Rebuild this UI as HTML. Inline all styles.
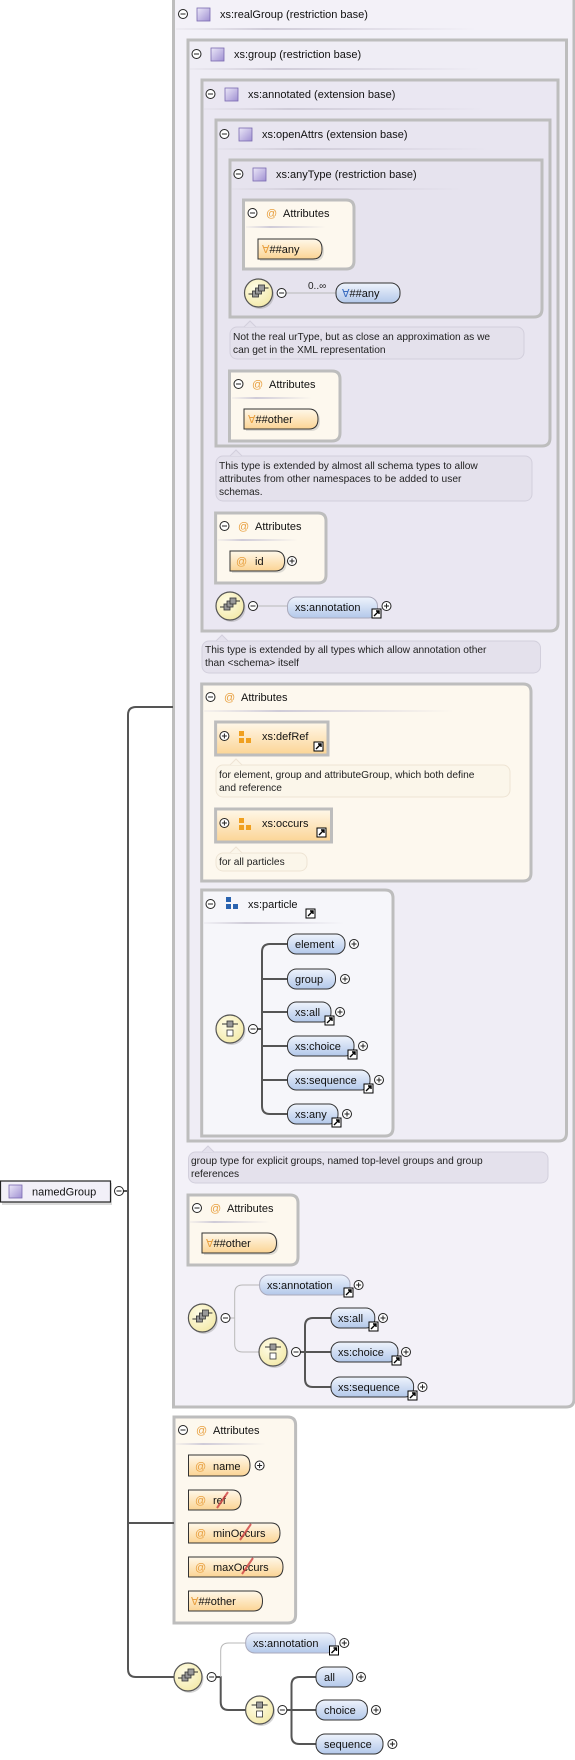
<!DOCTYPE html>
<html><head><meta charset="utf-8"><style>
html,body{margin:0;padding:0;background:#fff;}
svg{display:block;font-family:"Liberation Sans",sans-serif;}
</style></head><body>
<svg width="575" height="1760" viewBox="0 0 575 1760" xmlns="http://www.w3.org/2000/svg">
<defs>
<linearGradient id="lav" x1="0" y1="0" x2="1" y2="1"><stop offset="0" stop-color="#ece8f8"/><stop offset="1" stop-color="#9f90d2"/></linearGradient>
<linearGradient id="blu" x1="0" y1="0" x2="0" y2="1"><stop offset="0" stop-color="#eef3fc"/><stop offset="1" stop-color="#b3c8ea"/></linearGradient>
<linearGradient id="org" x1="0" y1="0" x2="0" y2="1"><stop offset="0" stop-color="#fff8ea"/><stop offset="1" stop-color="#fbd494"/></linearGradient>
<radialGradient id="yel" cx="0.4" cy="0.35" r="0.7"><stop offset="0" stop-color="#fffde8"/><stop offset="1" stop-color="#f3e9a8"/></radialGradient>
<linearGradient id="hl" x1="0" y1="0" x2="1" y2="0"><stop offset="0" stop-color="#d8d5de" stop-opacity="0.2"/><stop offset="0.3" stop-color="#cfcbd8"/><stop offset="1" stop-color="#cfcbd8" stop-opacity="0"/></linearGradient>
<g id="minus"><circle r="4.5" fill="#fff" stroke="#222" stroke-width="1"/><line x1="-2.5" y1="0" x2="2.5" y2="0" stroke="#222"/></g>
<g id="plus"><circle r="4.5" fill="#fff" stroke="#222" stroke-width="1"/><line x1="-2.5" y1="0" x2="2.5" y2="0" stroke="#222"/><line x1="0" y1="-2.5" x2="0" y2="2.5" stroke="#222"/></g>
<g id="ticon"><rect x="0" y="0" width="13" height="13" fill="url(#lav)" stroke="#7a6ab0" stroke-width="0.8"/></g>
<g id="link"><rect x="0" y="0" width="9" height="9" fill="#fff" stroke="#000" stroke-width="1"/><path d="M2 7 L7 2 M4 2 H7 V5" stroke="#000" stroke-width="1.4" fill="none"/></g>
<g id="seq"><circle r="14" fill="#888" opacity="0.35" cx="1.5" cy="2"/><circle r="14" fill="url(#yel)" stroke="#555" stroke-width="1.2"/><rect x="-6" y="-2" width="6" height="6" fill="#999" stroke="#333" stroke-width="0.8"/><rect x="-3" y="-5" width="6" height="6" fill="#999" stroke="#333" stroke-width="0.8"/><rect x="0" y="-8" width="6" height="6" fill="#999" stroke="#333" stroke-width="0.8"/><line x1="-10" y1="1" x2="-6" y2="1" stroke="#333"/><line x1="6" y1="-5" x2="10" y2="-5" stroke="#333"/></g>
<g id="cho"><circle r="14" fill="#888" opacity="0.35" cx="1.5" cy="2"/><circle r="14" fill="url(#yel)" stroke="#555" stroke-width="1.2"/><line x1="-8" y1="-5" x2="8" y2="-5" stroke="#333"/><rect x="-3" y="-8" width="6" height="6" fill="#999" stroke="#333" stroke-width="0.8"/><rect x="-3" y="1" width="6" height="6" fill="#fff" stroke="#333" stroke-width="0.8"/></g>
</defs>

<path d="M173.5 -2 H574 V1399 Q574 1407 566 1407 H173.5 Z" fill="#f3f1f8" stroke="#bdbdbd" stroke-width="3"/>
<path d="M188 40 H566.5 V1133 Q566.5 1141 558.5 1141 H188 Z" fill="#efedf5" stroke="#bdbdbd" stroke-width="3"/>
<path d="M202 80 H558 V623 Q558 631 550 631 H202 Z" fill="#eae7f2" stroke="#bdbdbd" stroke-width="3"/>
<path d="M216 120 H550 V438 Q550 446 542 446 H216 Z" fill="#e8e5f0" stroke="#bdbdbd" stroke-width="3"/>
<path d="M230 160 H542 V309 Q542 317 534 317 H230 Z" fill="#e6e3ee" stroke="#bdbdbd" stroke-width="3"/>

<rect x="176" y="28" width="300" height="2" fill="url(#hl)"/>
<rect x="190" y="68" width="290" height="2" fill="url(#hl)"/>
<rect x="204" y="108" width="280" height="2" fill="url(#hl)"/>
<rect x="218" y="148" width="270" height="2" fill="url(#hl)"/>
<rect x="232" y="188" width="230" height="2" fill="url(#hl)"/>

<g font-size="11" fill="#111">
<use href="#minus" x="183" y="14"/><use href="#ticon" x="197" y="8"/><text x="220" y="18">xs:realGroup (restriction base)</text>
<use href="#minus" x="196.5" y="54"/><use href="#ticon" x="211" y="48"/><text x="234" y="58">xs:group (restriction base)</text>
<use href="#minus" x="210.5" y="94"/><use href="#ticon" x="225" y="88"/><text x="248" y="98">xs:annotated (extension base)</text>
<use href="#minus" x="224.4" y="134"/><use href="#ticon" x="239" y="128"/><text x="262" y="138">xs:openAttrs (extension base)</text>
<use href="#minus" x="238.4" y="174"/><use href="#ticon" x="253" y="168"/><text x="276" y="178">xs:anyType (restriction base)</text>
</g>

<g fill="#fdf8ee" stroke="#bdbdbd" stroke-width="3">
<path d="M243.5 200 H346 Q354 200 354 208 V261 Q354 269 346 269 H243.5 Z"/>
<path d="M229.5 371 H332 Q340 371 340 379 V433 Q340 441 332 441 H229.5 Z"/>
<path d="M215.6 513 H318 Q326 513 326 521 V575 Q326 583 318 583 H215.6 Z"/>
<path d="M201.7 684 H523 Q531 684 531 692 V873 Q531 881 523 881 H201.7 Z"/>
<path d="M188 1195 H290 Q298 1195 298 1203 V1257 Q298 1265 290 1265 H188 Z"/>
<path d="M174 1417 H287.6 Q295.6 1417 295.6 1425 V1615 Q295.6 1623 287.6 1623 H174 Z"/>
</g>
<path d="M201.7 890 H385 Q393 890 393 898 V1128 Q393 1136 385 1136 H201.7 Z" fill="#f6f6fa" stroke="#bdbdbd" stroke-width="3"/>

<g font-size="11" fill="#111">
<rect x="246" y="226" width="80" height="2" fill="url(#hl)"/>
<use href="#minus" x="252.5" y="213"/><text x="266" y="217" fill="#e8a040">@</text><text x="283" y="217">Attributes</text>
<rect x="232" y="397" width="80" height="2" fill="url(#hl)"/>
<use href="#minus" x="238.5" y="384"/><text x="252" y="388" fill="#e8a040">@</text><text x="269" y="388">Attributes</text>
<rect x="218" y="539" width="80" height="2" fill="url(#hl)"/>
<use href="#minus" x="224.5" y="526"/><text x="238" y="530" fill="#e8a040">@</text><text x="255" y="530">Attributes</text>
<rect x="204" y="710" width="250" height="2" fill="url(#hl)"/>
<use href="#minus" x="210.5" y="697"/><text x="224" y="701" fill="#e8a040">@</text><text x="241" y="701">Attributes</text>
<rect x="190" y="1221" width="80" height="2" fill="url(#hl)"/>
<use href="#minus" x="197" y="1208"/><text x="210" y="1212" fill="#e8a040">@</text><text x="227" y="1212">Attributes</text>
<rect x="176" y="1443" width="90" height="2" fill="url(#hl)"/>
<use href="#minus" x="183" y="1430"/><text x="196" y="1434" fill="#e8a040">@</text><text x="213" y="1434">Attributes</text>
<rect x="204" y="922" width="140" height="2" fill="url(#hl)"/>
<use href="#minus" x="210.5" y="904"/>
<rect x="226" y="897" width="5" height="5" fill="#2a63b0"/><rect x="226" y="904" width="5" height="5" fill="#2a63b0"/><rect x="233" y="904" width="5" height="5" fill="#2a63b0"/>
<text x="248" y="908">xs:particle</text><use href="#link" x="306" y="909"/>
</g>

<g font-size="11" fill="#111">
<rect x="215.6" y="722" width="112.4" height="33" fill="url(#org)" stroke="#bdbdbd" stroke-width="3"/>
<use href="#plus" x="224.4" y="736"/>
<rect x="239" y="731" width="5" height="5" fill="#f0a020"/><rect x="239" y="738" width="5" height="5" fill="#f0a020"/><rect x="246" y="738" width="5" height="5" fill="#f0a020"/>
<text x="262" y="740">xs:defRef</text><use href="#link" x="314" y="742"/>
<rect x="215.6" y="809" width="115.9" height="33" fill="url(#org)" stroke="#bdbdbd" stroke-width="3"/>
<use href="#plus" x="224.4" y="823"/>
<rect x="239" y="818" width="5" height="5" fill="#f0a020"/><rect x="239" y="825" width="5" height="5" fill="#f0a020"/><rect x="246" y="825" width="5" height="5" fill="#f0a020"/>
<text x="262" y="827">xs:occurs</text><use href="#link" x="317" y="828"/>
</g>

<g stroke="#d2cfdc" stroke-width="1">
<rect x="230" y="327" width="294" height="32" rx="7" fill="#e4e1ec"/><path d="M244 327 L250 321 L256 327" fill="#e4e1ec"/>
<rect x="216" y="456" width="316" height="45" rx="7" fill="#e4e1ec"/><path d="M230 456 L236 450 L242 456" fill="#e4e1ec"/>
<rect x="202" y="641" width="338.5" height="32" rx="7" fill="#e4e1ec"/><path d="M216 641 L222 635 L228 641" fill="#e4e1ec"/>
<rect x="216" y="765" width="294" height="32" rx="7" fill="#fbf6ea" stroke="#eee4d4"/><path d="M230 765 L236 759 L242 765" fill="#fbf6ea" stroke="#eee4d4"/>
<rect x="216" y="853" width="91" height="18" rx="7" fill="#fbf6ea" stroke="#eee4d4"/><path d="M230 853 L236 847 L242 853" fill="#fbf6ea" stroke="#eee4d4"/>
<rect x="188.5" y="1152" width="359.5" height="31" rx="7" fill="#e4e1ec"/><path d="M202 1152 L208 1146 L214 1152" fill="#e4e1ec"/>
</g>
<g font-size="10.2" fill="#222">
<text x="233" y="340">Not the real urType, but as close an approximation as we</text>
<text x="233" y="353">can get in the XML representation</text>
<text x="219" y="469">This type is extended by almost all schema types to allow</text>
<text x="219" y="482">attributes from other namespaces to be added to user</text>
<text x="219" y="495">schemas.</text>
<text x="205" y="653">This type is extended by all types which allow annotation other</text>
<text x="205" y="666">than &lt;schema&gt; itself</text>
<text x="219" y="778">for element, group and attributeGroup, which both define</text>
<text x="219" y="791">and reference</text>
<text x="219" y="865">for all particles</text>
<text x="191" y="1164">group type for explicit groups, named top-level groups and group</text>
<text x="191" y="1177">references</text>
</g>

<g fill="none" stroke-width="2" stroke="#555">
<path d="M173 707 H136 Q128 707 128 715 V1669 Q128 1677 136 1677 H174"/>
<path d="M128 1523 H174"/>
<path d="M123.5 1191 H128"/>
<path d="M257 1029 H262 M287 944 H270 Q262 944 262 952 V1106 Q262 1114 270 1114 H287 M262 979 H287 M262 1012 H287 M262 1046 H287 M262 1080 H287"/>
<path d="M300 1352 H305 M331 1318 H313 Q305 1318 305 1326 V1379 Q305 1387 313 1387 H331 M305 1352 H331"/>
<path d="M216 1677 H220.7 V1702 Q220.7 1710 228.7 1710 H246"/>
<path d="M287 1710 H291.5 M316 1677 H299.5 Q291.5 1677 291.5 1685 V1736 Q291.5 1744 299.5 1744 H316 M291.5 1710 H316"/>
</g>
<g fill="none" stroke-width="1" stroke="#b8b8b8">
<path d="M286 293 H336"/>
<path d="M257.5 606 H287.5"/>
<path d="M230 1318 H234.7 V1293 Q234.7 1285 242.7 1285 H259.6 M234.7 1318 V1344 Q234.7 1352 242.7 1352 H259"/>
<path d="M220.7 1677 V1651 Q220.7 1643 228.7 1643 H245.7"/>
</g>

<use href="#seq" x="258.5" y="293"/><use href="#minus" x="281.6" y="293"/>
<text x="308" y="289" font-size="10" fill="#222">0..∞</text>
<use href="#seq" x="230" y="606"/><use href="#minus" x="253" y="606"/>
<use href="#cho" x="230" y="1029"/><use href="#minus" x="253" y="1029"/>
<use href="#seq" x="202.4" y="1318"/><use href="#minus" x="225.5" y="1318"/>
<use href="#cho" x="273" y="1352"/><use href="#minus" x="296" y="1352"/>
<use href="#seq" x="188" y="1677"/><use href="#minus" x="211.6" y="1677"/>
<use href="#cho" x="259.6" y="1710"/><use href="#minus" x="282.4" y="1710"/>

<g font-size="11" fill="#111">
<g stroke="#333" stroke-width="1">
<path d="M260 241 H315 Q324 241 324 251 Q324 261 315 261 H260 Z" fill="#999" opacity="0.3" stroke="none"/>
<path d="M258 239 H313 Q322 239 322 249 Q322 259 313 259 H258 Z" fill="url(#org)"/>
<path d="M246 411 H311 Q320 411 320 421 Q320 431 311 431 H246 Z" fill="#999" opacity="0.3" stroke="none"/>
<path d="M244 409 H309 Q318 409 318 419 Q318 429 309 429 H244 Z" fill="url(#org)"/>
<path d="M232 553 H277 Q286.6 553 286.6 563 Q286.6 573 277 573 H232 Z" fill="#999" opacity="0.3" stroke="none"/>
<path d="M230 551 H275 Q284.6 551 284.6 561 Q284.6 571 275 571 H230 Z" fill="url(#org)"/>
<path d="M204 1235 H269 Q278.5 1235 278.5 1245 Q278.5 1255 269 1255 H204 Z" fill="#999" opacity="0.3" stroke="none"/>
<path d="M202 1233 H267 Q276.5 1233 276.5 1243 Q276.5 1253 267 1253 H202 Z" fill="url(#org)"/>
<path d="M188.5 1455 H241 Q250 1455 250 1465.5 Q250 1476 241 1476 H188.5 Z" fill="url(#org)"/>
<path d="M188.5 1490 H232 Q241 1490 241 1500 Q241 1510 232 1510 H188.5 Z" fill="url(#org)"/>
<path d="M188.5 1523 H271 Q280 1523 280 1533 Q280 1543 271 1543 H188.5 Z" fill="url(#org)"/>
<path d="M188.5 1557 H274 Q283 1557 283 1567 Q283 1577 274 1577 H188.5 Z" fill="url(#org)"/>
<path d="M188.5 1591 H253.5 Q262.5 1591 262.5 1601 Q262.5 1611 253.5 1611 H188.5 Z" fill="url(#org)"/>
</g>
<text x="262" y="253"><tspan fill="#e8a040">∀</tspan>##any</text>
<text x="248" y="423"><tspan fill="#e8a040">∀</tspan>##other</text>
<text x="236" y="565" fill="#e8a040">@</text><text x="255" y="565">id</text>
<text x="206" y="1247"><tspan fill="#e8a040">∀</tspan>##other</text>
<text x="195" y="1470" fill="#e8a040">@</text><text x="213" y="1470">name</text>
<text x="195" y="1504" fill="#e8a040">@</text><text x="213" y="1504">ref</text>
<text x="195" y="1537" fill="#e8a040">@</text><text x="213" y="1537">minOccurs</text>
<text x="195" y="1571" fill="#e8a040">@</text><text x="213" y="1571">maxOccurs</text>
<text x="191" y="1605"><tspan fill="#e8a040">∀</tspan>##other</text>
<path d="M217 1508 L228 1492 M240 1540 L251 1524 M242 1574 L253 1558" stroke="#d04040" stroke-width="2" opacity="0.8"/>
<use href="#plus" x="292" y="561"/><use href="#plus" x="259.6" y="1465.5"/>
</g>

<g font-size="11" fill="#111">
<g stroke="#333" stroke-width="1" fill="url(#blu)">
<rect x="336" y="283" width="64" height="20" rx="9"/>
<rect x="287.5" y="597" width="90" height="21" rx="9" stroke="#aab"/>
<rect x="287.5" y="934" width="57.5" height="20" rx="9"/>
<rect x="287.5" y="969" width="48" height="20" rx="9"/>
<rect x="287.5" y="1002" width="43.5" height="20" rx="9"/>
<rect x="287.5" y="1036" width="66.5" height="20" rx="9"/>
<rect x="287.5" y="1070" width="82.5" height="20" rx="9"/>
<rect x="287.5" y="1104" width="50.5" height="20" rx="9"/>
<rect x="259.6" y="1275" width="90.4" height="20" rx="9" stroke="#aab"/>
<rect x="331" y="1308" width="43.8" height="20" rx="9"/>
<rect x="331" y="1342" width="67" height="20" rx="9"/>
<rect x="331" y="1377" width="82.6" height="20" rx="9"/>
<rect x="245.7" y="1633" width="89.8" height="20" rx="9" stroke="#aab"/>
<rect x="316" y="1667" width="36.8" height="20" rx="9"/>
<rect x="316" y="1700" width="51.4" height="20" rx="9"/>
<rect x="316" y="1734" width="67" height="20" rx="9"/>
</g>
<text x="342" y="297"><tspan fill="#3a6cc0">∀</tspan>##any</text>
<text x="295" y="611">xs:annotation</text><use href="#link" x="372" y="609"/><use href="#plus" x="386.5" y="606"/>
<text x="295" y="948">element</text><use href="#plus" x="354" y="944"/>
<text x="295" y="983">group</text><use href="#plus" x="345" y="979"/>
<text x="295" y="1016">xs:all</text><use href="#link" x="325" y="1016"/><use href="#plus" x="340" y="1012"/>
<text x="295" y="1050">xs:choice</text><use href="#link" x="348" y="1050"/><use href="#plus" x="363" y="1046"/>
<text x="295" y="1084">xs:sequence</text><use href="#link" x="364" y="1084"/><use href="#plus" x="379" y="1080"/>
<text x="295" y="1118">xs:any</text><use href="#link" x="332" y="1118"/><use href="#plus" x="347" y="1114"/>
<text x="267" y="1289">xs:annotation</text><use href="#link" x="344" y="1288"/><use href="#plus" x="358.6" y="1285"/>
<text x="338" y="1322">xs:all</text><use href="#link" x="369" y="1322"/><use href="#plus" x="383" y="1318"/>
<text x="338" y="1356">xs:choice</text><use href="#link" x="392" y="1356"/><use href="#plus" x="406" y="1352"/>
<text x="338" y="1391">xs:sequence</text><use href="#link" x="408" y="1391"/><use href="#plus" x="422.5" y="1387"/>
<text x="253" y="1647">xs:annotation</text><use href="#link" x="329.5" y="1646"/><use href="#plus" x="344.3" y="1643"/>
<text x="324" y="1681">all</text><use href="#plus" x="361" y="1677"/>
<text x="324" y="1714">choice</text><use href="#plus" x="376" y="1710"/>
<text x="324" y="1748">sequence</text><use href="#plus" x="392.4" y="1744"/>
</g>

<rect x="2" y="1183" width="110" height="22" fill="#999" opacity="0.35"/>
<rect x="0.5" y="1181" width="110" height="21" fill="#f2f0f8" stroke="#222" stroke-width="1.2"/>
<use href="#ticon" x="9" y="1185"/>
<text x="32" y="1195.5" font-size="11" fill="#111">namedGroup</text>
<use href="#minus" x="119" y="1191"/>
</svg>
</body></html>
